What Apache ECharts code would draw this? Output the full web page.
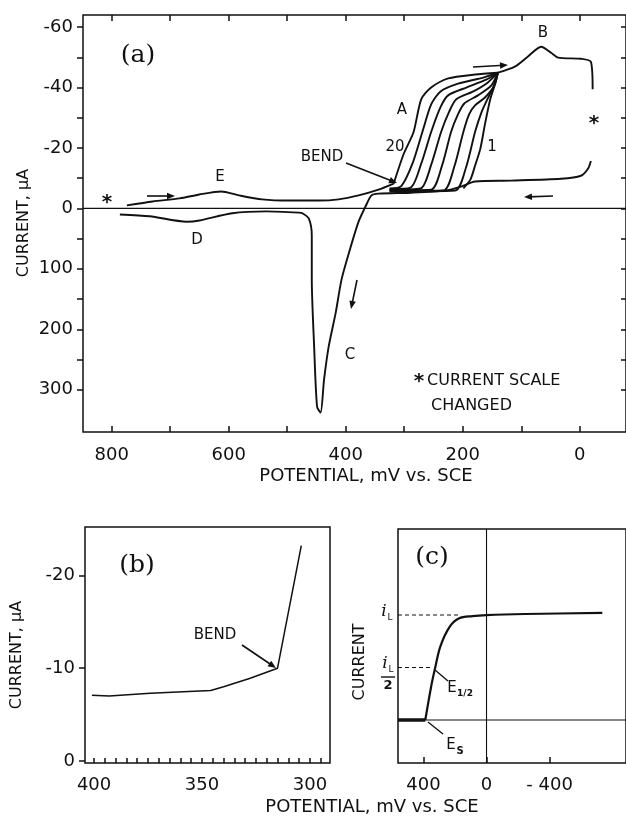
<!DOCTYPE html>
<html>
<head>
<meta charset="utf-8">
<script src="https://cdn.jsdelivr.net/npm/echarts@6/dist/echarts.min.js"></script>
<style>
html, body { margin: 0; padding: 0; background: #fff; }
#chart { width: 626px; height: 820px; }
</style>
</head>
<body>
<div id="chart"></div>
<script>
// ---- panel (a): potential (mV vs SCE), current (uA) ----
var forwardScan = [[774,-1.0],[730,-2.3],[684,-3.3],[650,-4.6],[613,-5.6],[582,-4.3],[543,-3.0],
  [497,-2.6],[446,-2.6],[412,-3.0],[378,-4.3],[344,-6.2],[318,-8.2]];
// scans 20 ... 1, left to right
var scan20 = [[318,-8.2],[301,-18.0],[284,-25.3],[271,-36.1],[254,-40.0],[225,-43.0],[179,-44.3],[140,-44.9]];
var scanB = [[325,-6.6],[305,-7.4],[286,-14.8],[269,-25.3],[254,-34.4],[238,-38.7],[208,-41.3],[165,-43.3],[140,-44.9]];
var scanC = [[325,-6.4],[289,-6.9],[271,-14.8],[254,-25.3],[238,-33.5],[225,-37.4],[194,-40.0],[160,-42.6],[140,-44.9]];
var scanD = [[325,-6.2],[272,-6.6],[254,-14.4],[237,-25.3],[223,-32.1],[211,-36.1],[182,-38.7],[157,-41.7],[140,-44.9]];
var scanE = [[325,-6.0],[254,-6.2],[235,-14.4],[220,-25.3],[208,-31.2],[197,-34.8],[174,-37.4],[151,-40.7],[140,-44.9]];
var scanF = [[325,-5.8],[233,-5.9],[214,-14.1],[199,-25.3],[189,-31.2],[179,-34.1],[162,-36.7],[146,-40.7],[140,-44.9]];
var scanG = [[325,-5.6],[213,-5.9],[194,-13.8],[179,-25.3],[168,-31.8],[158,-36.1],[148,-40.0],[140,-44.9]];
var scan1 = [[199,-6.6],[187,-9.5],[179,-14.1],[170,-19.7],[162,-27.9],[153,-36.1],[145,-41.0],[140,-44.9]];
var peakB = [[140,-44.9],[111,-46.9],[89,-50.2],[66,-53.5],[49,-51.5],[37,-49.9],[-2,-49.5],[-19,-48.5],[-22,-39.4]];
var returnScan = [[-19,-15.7],[-14,-13.1],[-2,-10.8],[32,-9.8],[117,-9.2],[179,-8.9],[203,-7.2],[230,-5.9],
  [288,-5.2],[344,-4.9],[356,-4.3],[366,-0.7],[378,22],[391,62],[407,117],[417,172],[429,228],[437,283],
  [443,338],[449,328],[454,228],[458,117],[458,45],[463,17],[474,8],[480,7],[536,5],[594,8],[650,20],
  [672,22],[735,13],[786,10]];
var aTickMv = [800,700,600,500,400,300,200,100,0];
var aLabelMv = [800,600,400,200,0];
var aUpperTicks = [-60,-40,-20,0];   // uA, 20 per division
var aLowerTicks = [100,200,300];     // uA, 100 per division

// ---- panel (b) ----
var bPot = [401,393,374,346,340,328,315,304];
var bCur = [-7.1,-7.0,-7.3,-7.6,-8.0,-8.9,-10.0,-23.2];
var bLabelMv = [400,350,300];
var bTickCur = [-20,-10,0];

// ---- panel (c) ----
var cPot = [388,352,328,293,233,173,90,0,-245,-734];
var cCur = [0,0.31,0.48,0.70,0.89,0.97,0.99,1.0,1.01,1.02];
var cFoot = [[561,0],[388,0]];
var cLabelMv = [400,0,-400];

var INK = '#111';
var FONT = 'DejaVu Sans';
var TICKFONT = 18;

// current scale changes at zero: 20 uA per division above, 100 uA per division below
function toU(i) { return i <= 0 ? -i / 20 : -i / 100; }
function mapA(arr) { return arr.map(function (d) { return [d[0], toU(d[1])]; }); }

var aLabelU = {};
aUpperTicks.concat(aLowerTicks).forEach(function (i) { aLabelU[Math.round(toU(i) * 100)] = String(i); });
var aLabelVals = aUpperTicks.concat(aLowerTicks).map(toU);
var aHalf = [];
for (var k = -6; k <= 6; k++) aHalf.push(k / 2);
var bTickMv = [];
for (var m = 295; m <= 400; m += 5) bTickMv.push(m);

var chart = echarts.init(document.getElementById('chart'), null, { renderer: 'canvas' });

var tickStyle = { color: INK, width: 1.5 };
var noLine = { show: false, onZero: false };

function curve(data, xi, w, smooth) {
  return {
    type: 'line', xAxisIndex: xi, yAxisIndex: xi, data: data, showSymbol: false, symbol: 'none',
    smooth: smooth || false, lineStyle: { color: INK, width: w }, silent: true, z: 3
  };
}

function arrow(x1, y1, x2, y2) {
  var a = Math.atan2(y2 - y1, x2 - x1), L = 8, W = 3.3;
  var c = Math.cos(a), s = Math.sin(a);
  return [
    { type: 'line', shape: { x1: x1, y1: y1, x2: x2 - c * 4, y2: y2 - s * 4 }, style: { stroke: INK, lineWidth: 1.6 } },
    { type: 'polygon', shape: { points: [[x2, y2], [x2 - L * c + W * s, y2 - L * s - W * c], [x2 - L * c - W * s, y2 - L * s + W * c]] }, style: { fill: INK } }
  ];
}
function txt(t, x, y, size, extra) {
  var o = { type: 'text', x: x, y: y, style: { text: t, fill: INK, fontFamily: FONT, fontSize: size || 15, align: 'center', verticalAlign: 'middle' } };
  if (extra) for (var key in extra) o[key] = extra[key];
  return o;
}
function star(x, y) {
  return { type: 'text', x: x, y: y, style: { text: '*', fill: INK, fontFamily: FONT, fontSize: 20, fontWeight: 'bold', align: 'center', verticalAlign: 'middle' } };
}
function serif(t, x, y) {
  return { type: 'text', x: x, y: y, style: { text: t, fill: INK, fontFamily: 'DejaVu Serif', fontSize: 25, align: 'center', verticalAlign: 'middle' } };
}
function seg(x1, y1, x2, y2, w) {
  return { type: 'line', shape: { x1: x1, y1: y1, x2: x2, y2: y2 }, style: { stroke: INK, lineWidth: w || 1.3 } };
}

var graphics = [
  serif('(a)', 138, 55),
  txt('B', 543, 33), txt('A', 402, 110), txt('20', 395, 147), txt('1', 492, 147),
  txt('BEND', 322, 157), txt('E', 220, 177), txt('D', 197, 240), txt('C', 350, 355),
  star(107, 203), star(594, 124), star(419, 382),
  { type: 'text', x: 427, y: 381, style: { text: 'CURRENT SCALE', fill: INK, fontFamily: FONT, fontSize: 16, align: 'left', verticalAlign: 'middle' } },
  { type: 'text', x: 431, y: 406, style: { text: 'CHANGED', fill: INK, fontFamily: FONT, fontSize: 16, align: 'left', verticalAlign: 'middle' } },
  txt('POTENTIAL, mV vs. SCE', 366, 476, 18),
  txt('CURRENT, \u03bcA', 24, 223, 16, { rotation: Math.PI / 2 }),
  // panel (b)
  serif('(b)', 137, 565),
  txt('BEND', 215, 635),
  txt('CURRENT, \u03bcA', 17, 655, 16, { rotation: Math.PI / 2 }),
  txt('POTENTIAL, mV vs. SCE', 372, 807, 18),
  // panel (c)
  serif('(c)', 432, 557),
  txt('CURRENT', 360, 662, 16, { rotation: Math.PI / 2 }),
  { type: 'text', x: 384, y: 612, style: { text: 'i', fill: INK, fontFamily: 'DejaVu Serif', fontStyle: 'italic', fontSize: 17, align: 'center', verticalAlign: 'middle' } },
  { type: 'text', x: 390, y: 618, style: { text: 'L', fill: INK, fontFamily: FONT, fontSize: 9, align: 'center', verticalAlign: 'middle' } },
  { type: 'text', x: 385, y: 664, style: { text: 'i', fill: INK, fontFamily: 'DejaVu Serif', fontStyle: 'italic', fontSize: 17, align: 'center', verticalAlign: 'middle' } },
  { type: 'text', x: 391, y: 670, style: { text: 'L', fill: INK, fontFamily: FONT, fontSize: 9, align: 'center', verticalAlign: 'middle' } },
  seg(381, 677, 395, 677, 1.4),
  { type: 'text', x: 388, y: 686, style: { text: '2', fill: INK, fontFamily: FONT, fontSize: 13, fontWeight: 'bold', align: 'center', verticalAlign: 'middle' } },
  { type: 'text', x: 452, y: 688, style: { text: 'E', fill: INK, fontFamily: FONT, fontSize: 15, align: 'center', verticalAlign: 'middle' } },
  { type: 'text', x: 465, y: 694, style: { text: '1/2', fill: INK, fontFamily: FONT, fontSize: 9, fontWeight: 'bold', align: 'center', verticalAlign: 'middle' } },
  { type: 'text', x: 451, y: 745, style: { text: 'E', fill: INK, fontFamily: FONT, fontSize: 15, align: 'center', verticalAlign: 'middle' } },
  { type: 'text', x: 460, y: 751, style: { text: 'S', fill: INK, fontFamily: FONT, fontSize: 10, fontWeight: 'bold', align: 'center', verticalAlign: 'middle' } },
  seg(435, 670, 448, 681), seg(428, 722, 443, 734)
];
graphics = graphics
  .concat(arrow(147, 196, 175, 196))
  .concat(arrow(473, 67, 508, 65))
  .concat(arrow(553, 196, 524, 197))
  .concat(arrow(357, 280, 351, 309))
  .concat(arrow(346, 163, 397, 183))
  .concat(arrow(242, 645, 276, 668));

function gridOf(l, t, w, h) {
  return { left: l, top: t, width: w, height: h, containLabel: false, show: true,
    borderColor: INK, borderWidth: 1.5, backgroundColor: 'transparent' };
}

var option = {
  animation: false,
  backgroundColor: '#fff',
  grid: [gridOf(83, 15, 545, 417), gridOf(85, 527, 245, 236), gridOf(398, 529, 242, 234)],
  xAxis: [
    { gridIndex: 0, type: 'value', inverse: true, min: -79, max: 849, position: 'bottom',
      axisLine: noLine, splitLine: { show: false },
      axisTick: { inside: true, length: 6, customValues: aTickMv, lineStyle: tickStyle },
      axisLabel: { customValues: aLabelMv, margin: 14, color: INK, fontFamily: FONT, fontSize: TICKFONT } },
    { gridIndex: 2, type: 'value', inverse: true, min: -884, max: 561, position: 'bottom',
      axisLine: noLine, splitLine: { show: false },
      axisTick: { inside: true, length: 6, customValues: cLabelMv, lineStyle: tickStyle },
      axisLabel: { customValues: cLabelMv, margin: 13, color: INK, fontFamily: FONT, fontSize: TICKFONT,
        formatter: function (v) { return v < 0 ? '- ' + (-v) : String(v); } } },
    { gridIndex: 1, type: 'value', inverse: true, min: 290.7, max: 404.2, position: 'bottom',
      axisLine: noLine, splitLine: { show: false },
      axisTick: { inside: true, length: 5, customValues: bTickMv, lineStyle: tickStyle },
      axisLabel: { customValues: bLabelMv, margin: 13, color: INK, fontFamily: FONT, fontSize: TICKFONT } },
    { gridIndex: 0, type: 'value', inverse: true, min: -79, max: 849, position: 'top',
      axisLine: noLine, splitLine: { show: false },
      axisTick: { inside: true, length: 6, customValues: aTickMv, lineStyle: tickStyle },
      axisLabel: { show: false } }
  ],
  yAxis: [
    { gridIndex: 0, type: 'value', min: -3.7, max: 3.2, position: 'left',
      axisLine: noLine, splitLine: { show: false },
      axisTick: { inside: false, length: 6, customValues: aHalf, lineStyle: tickStyle },
      axisLabel: { customValues: aLabelVals, margin: 10, color: INK, fontFamily: FONT, fontSize: TICKFONT,
        formatter: function (v) { return aLabelU[Math.round(v * 100)] || ''; } } },
    { gridIndex: 2, type: 'value', min: -0.41, max: 1.82,
      axisLine: noLine, splitLine: { show: false }, axisTick: { show: false }, axisLabel: { show: false } },
    { gridIndex: 1, type: 'value', inverse: true, min: -25.2, max: 0.2, position: 'left',
      axisLine: noLine, splitLine: { show: false },
      axisTick: { inside: false, length: 6, customValues: bTickCur, lineStyle: tickStyle },
      axisLabel: { customValues: bTickCur, margin: 10, color: INK, fontFamily: FONT, fontSize: TICKFONT } },
    { gridIndex: 0, type: 'value', min: -3.7, max: 3.2, position: 'right',
      axisLine: noLine, splitLine: { show: false },
      axisTick: { inside: true, length: 5, customValues: aHalf, lineStyle: tickStyle },
      axisLabel: { show: false } }
  ],
  series: [],
  graphic: graphics
};

function sA(data, w) {
  return curve(mapA(data), 0, w, 0.25);
}
var S = option.series;
S.push(curve([[849, 0], [-79, 0]], 0, 1.1));
[forwardScan, scan20, scanB, scanC, scanD, scanE, scanF, scanG, scan1, peakB, returnScan].forEach(function (d) {
  S.push(sA(d, 1.9));
});
// panel (b): x axis 2, y axis 2
var bData = bPot.map(function (p, i) { return [p, bCur[i]]; });
S.push(curve(bData, 2, 1.5, false));
// panel (c): x axis 1, y axis 1
var cData = cPot.map(function (p, i) { return [p, cCur[i]]; });
S.push(curve([[561, 0], [-884, 0]], 1, 1.1));
S.push(curve([[0, -0.41], [0, 1.82]], 1, 1.1));
var dash1 = curve([[561, 1], [173, 1]], 1, 1.1); dash1.lineStyle.type = [4, 3]; S.push(dash1);
var dash2 = curve([[561, 0.5], [340, 0.5]], 1, 1.1); dash2.lineStyle.type = [4, 3]; S.push(dash2);
S.push(curve(cFoot, 1, 3.6));
S.push(curve(cData, 1, 2.2, 0.3));

chart.setOption(option);
</script>
</body>
</html>
